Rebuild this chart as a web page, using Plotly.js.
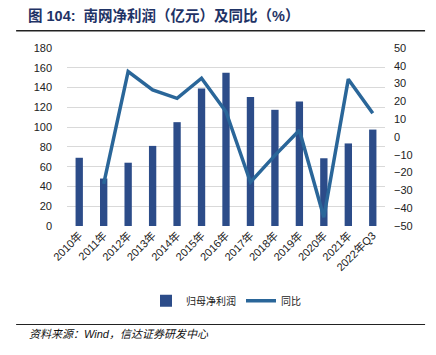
<!DOCTYPE html>
<html>
<head>
<meta charset="utf-8">
<script src="https://cdn.plot.ly/plotly-3.0.1.min.js"></script>
<style>html,body{margin:0;padding:0;background:#fff;}#chart{width:436px;height:355px;}</style>
</head>
<body>
<div id="chart"></div>
<script>
const categories = ["2010年","2011年","2012年","2013年","2014年","2015年","2016年","2017年","2018年","2019年","2020年","2021年","2022年Q3"];
const netProfit = [69, 48, 64, 81, 105, 139, 155, 130.5, 117.5, 126, 68.5, 83.5, 97.5];
const yoy = [null, -26.3, 36.8, 26.4, 21.7, 33, 14.2, -25.4, -10.3, 3.8, -45.1, 32.5, 13.3];
const leftTicks = [0,20,40,60,80,100,120,140,160,180];
const rightTicks = [-50,-40,-30,-20,-10,0,10,20,30,40,50];

const fontFam = "Liberation Sans, Arial, Noto Sans CJK SC, sans-serif";
const traces = [
  {type:"bar", x:categories, y:netProfit, name:"归母净利润", marker:{color:"#2C4C89"}, width:0.3},
  {type:"scatter", mode:"lines", x:categories, y:yoy, name:"同比", yaxis:"y2", line:{color:"#2A6699", width:3.5}, connectgaps:false}
];
const layout = {
  width:436, height:355,
  margin:{l:67, r:51, t:48, b:129},
  paper_bgcolor:"#fff", plot_bgcolor:"#fff",
  font:{family:fontFam, size:11, color:"#222"},
  showlegend:true,
  legend:{orientation:"h", x:0.5, xanchor:"center", y:-0.42, yanchor:"middle", bgcolor:"rgba(0,0,0,0)", font:{size:10, color:"#222"}, itemwidth:30, tracegroupgap:0},
  xaxis:{type:"category", tickangle:-45, showgrid:false, showline:false, ticks:"", tickfont:{size:11}, fixedrange:true},
  yaxis:{range:[0,180], tickvals:leftTicks, showgrid:true, gridcolor:"#d9d9d9", gridwidth:1, zeroline:false, showline:false, ticks:"", tickfont:{size:11}, ticklabelstandoff:14},
  yaxis2:{range:[-50,50], tickvals:rightTicks, overlaying:"y", side:"right", showgrid:false, zeroline:false, showline:false, ticks:"", tickfont:{size:11}, ticklabelstandoff:8},
  annotations:[
    {xref:"paper", yref:"paper", x:-0.13, y:1.185, xanchor:"left", yanchor:"middle", showarrow:false,
     text:"<b>图 104:  南网净利润（亿元）及同比（%）</b>", font:{family:"Liberation Sans, Noto Sans CJK SC, sans-serif", size:14.5, color:"#1F3366"}},
    {xref:"paper", yref:"paper", x:-0.125, y:-0.607, xanchor:"left", yanchor:"middle", showarrow:false,
     text:"<i>资料来源：Wind，信达证券研发中心</i>", font:{family:"Liberation Sans, Noto Sans CJK SC, sans-serif", size:11, color:"#111"}}
  ],
  shapes:[
    {type:"rect", xref:"paper", yref:"paper", x0:-0.160, x1:1.126, y0:1.093, y1:1.101, fillcolor:"#222222", line:{width:0}},
    {type:"rect", xref:"paper", yref:"paper", x0:-0.160, x1:1.126, y0:-0.5555, y1:-0.5505, fillcolor:"#222222", line:{width:0}}
  ]
};
Plotly.newPlot("chart", traces, layout, {displayModeBar:false, staticPlot:true});
</script>
</body>
</html>
